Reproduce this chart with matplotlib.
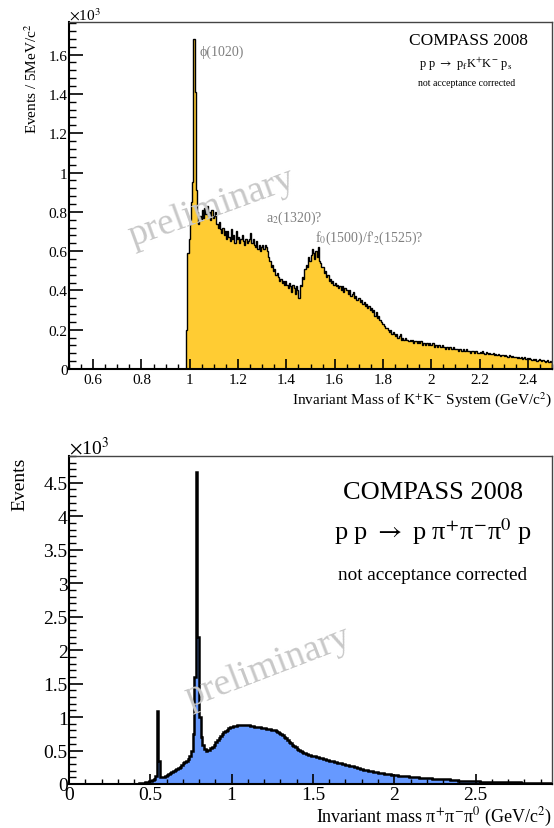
import numpy as np
import matplotlib
matplotlib.use("Agg")
import matplotlib.pyplot as plt
from matplotlib.ticker import MultipleLocator, FuncFormatter

plt.rcParams['font.family'] = ['Liberation Serif', 'DejaVu Serif']
plt.rcParams['mathtext.fontset'] = 'stix'

# K+K- invariant mass, 5 MeV bins from 0.985 GeV, entries in units of 10^3
kk_start = 0.985
kk_width = 0.005
kk_counts = [
    0.20, 0.59, 0.66,
    0.76, 0.85, 0.95, 1.68, 1.41, 0.91, 0.80, 0.74, 0.78, 0.76,
    0.81, 0.77, 0.82, 0.79, 0.83, 0.78, 0.80, 0.76, 0.81, 0.77,
    0.78, 0.80, 0.74, 0.72, 0.75, 0.71, 0.69, 0.72, 0.68, 0.70,
    0.66, 0.70, 0.67, 0.65, 0.71, 0.66, 0.68, 0.64, 0.70, 0.66,
    0.67, 0.64, 0.66, 0.68, 0.65, 0.63, 0.66, 0.64, 0.65, 0.66,
    0.69, 0.64, 0.66, 0.63, 0.62, 0.65, 0.61, 0.63, 0.60, 0.62,
    0.63, 0.61, 0.63, 0.62, 0.60, 0.57, 0.55, 0.52, 0.53, 0.50,
    0.51, 0.48, 0.49, 0.47, 0.45, 0.46, 0.44, 0.45, 0.43, 0.45,
    0.43, 0.41, 0.44, 0.42, 0.39, 0.43, 0.41, 0.38, 0.42, 0.40,
    0.36, 0.43, 0.42, 0.47, 0.46, 0.51, 0.53, 0.52, 0.57, 0.55,
    0.58, 0.61, 0.59, 0.56, 0.60, 0.57, 0.62, 0.55, 0.54, 0.52,
    0.52, 0.49, 0.50, 0.47, 0.48, 0.45, 0.46, 0.44, 0.45, 0.43,
    0.44, 0.42, 0.43, 0.41, 0.42, 0.40, 0.42, 0.39, 0.41, 0.40,
    0.40, 0.38, 0.40, 0.37, 0.38, 0.39, 0.36, 0.37, 0.35, 0.36,
    0.36, 0.34, 0.35, 0.33, 0.34, 0.32, 0.33, 0.31, 0.32, 0.30,
    0.31, 0.29, 0.30, 0.27, 0.29, 0.26, 0.27, 0.25, 0.24, 0.23,
    0.23, 0.22, 0.21, 0.21, 0.20, 0.19, 0.20, 0.18, 0.19, 0.18,
    0.17, 0.18, 0.16, 0.17, 0.18, 0.15, 0.16, 0.15, 0.16, 0.15,
    0.15, 0.14, 0.15, 0.14, 0.15, 0.13, 0.14, 0.14, 0.13, 0.14,
    0.13, 0.14, 0.12, 0.13, 0.13, 0.12, 0.13, 0.12, 0.13, 0.12,
    0.12, 0.13, 0.11, 0.12, 0.12, 0.11, 0.12, 0.11, 0.11, 0.12,
    0.11, 0.10, 0.11, 0.11, 0.10, 0.11, 0.10, 0.10, 0.11, 0.10,
    0.10, 0.10, 0.09, 0.10, 0.10, 0.09, 0.10, 0.09, 0.09, 0.10,
    0.09, 0.09, 0.08, 0.09, 0.09, 0.08, 0.09, 0.09, 0.08, 0.08,
    0.085, 0.08, 0.09, 0.08, 0.075, 0.085, 0.08, 0.075, 0.08, 0.075,
    0.075, 0.08, 0.07, 0.075, 0.07, 0.075, 0.07, 0.065, 0.07, 0.07,
    0.065, 0.07, 0.065, 0.06, 0.07, 0.065, 0.06, 0.065, 0.06, 0.06,
    0.06, 0.055, 0.06, 0.055, 0.06, 0.05, 0.055, 0.06, 0.05, 0.055,
    0.05, 0.055, 0.05, 0.045, 0.05, 0.045, 0.05, 0.04, 0.045, 0.05,
    0.045, 0.04, 0.045, 0.04, 0.035, 0.04, 0.045, 0.035, 0.04, 0.035,
]

# pi+pi-pi0 invariant mass, 10 MeV bins from 0.40 GeV, entries in units of 10^3
pi_start = 0.40
pi_width = 0.010
pi_counts = [
    0.000, 0.000, 0.004, 0.008, 0.012, 0.016, 0.021, 0.026, 0.032, 0.040,
    0.048, 0.058, 0.072, 0.120, 1.090, 0.350, 0.110, 0.100, 0.110, 0.120,
    0.130, 0.145, 0.160, 0.175, 0.190, 0.205, 0.220, 0.240, 0.260, 0.285,
    0.310, 0.330, 0.350, 0.380, 0.420, 0.500, 0.750, 1.600, 4.660, 2.200,
    1.000, 0.700, 0.580, 0.530, 0.500, 0.505, 0.515, 0.535, 0.560, 0.590,
    0.620, 0.650, 0.680, 0.710, 0.740, 0.770, 0.790, 0.810, 0.830, 0.845,
    0.855, 0.865, 0.870, 0.875, 0.880, 0.885, 0.880, 0.885, 0.880, 0.875,
    0.875, 0.870, 0.865, 0.860, 0.855, 0.850, 0.850, 0.845, 0.840, 0.835,
    0.830, 0.825, 0.820, 0.815, 0.810, 0.805, 0.800, 0.790, 0.780, 0.765,
    0.750, 0.730, 0.705, 0.680, 0.655, 0.630, 0.610, 0.590, 0.570, 0.550,
    0.530, 0.510, 0.495, 0.480, 0.470, 0.460, 0.450, 0.440, 0.430, 0.425,
    0.420, 0.412, 0.405, 0.398, 0.390, 0.383, 0.376, 0.370, 0.364, 0.357,
    0.350, 0.344, 0.338, 0.332, 0.326, 0.320, 0.314, 0.308, 0.302, 0.296,
    0.290, 0.283, 0.276, 0.269, 0.262, 0.255, 0.248, 0.241, 0.234, 0.227,
    0.220, 0.215, 0.210, 0.205, 0.200, 0.195, 0.190, 0.185, 0.180, 0.175,
    0.170, 0.166, 0.162, 0.158, 0.154, 0.150, 0.146, 0.142, 0.138, 0.134,
    0.130, 0.128, 0.126, 0.124, 0.122, 0.120, 0.117, 0.115, 0.113, 0.111,
    0.110, 0.107, 0.104, 0.101, 0.098, 0.096, 0.094, 0.092, 0.090, 0.088,
    0.086, 0.085, 0.084, 0.082, 0.081, 0.080, 0.079, 0.078, 0.077, 0.076,
    0.075, 0.073, 0.070, 0.068, 0.065, 0.062, 0.060, 0.057, 0.055, 0.052,
    0.050, 0.049, 0.048, 0.047, 0.046, 0.045, 0.044, 0.043, 0.042, 0.041,
    0.040, 0.039, 0.038, 0.037, 0.036, 0.035, 0.034, 0.033, 0.032, 0.031,
    0.030, 0.030, 0.029, 0.029, 0.028, 0.028, 0.027, 0.027, 0.026, 0.026,
    0.025, 0.025, 0.024, 0.024, 0.024, 0.023, 0.023, 0.023, 0.022, 0.022,
    0.022, 0.022, 0.021, 0.021, 0.021, 0.021, 0.020, 0.020, 0.020, 0.020,
    0.020, 0.020, 0.019, 0.019, 0.019, 0.019, 0.019,
]

W, H = 554, 829
fig = plt.figure(figsize=(W/100, H/100), dpi=100)
ax1 = fig.add_axes([69/W, 1-370/H, 483/W, 347/H])
ax2 = fig.add_axes([69/W, 1-785/H, 483/W, 328/H])

def root_style(ax, xmaj, xmin, ymaj, ymin, size, ylen, xpad):
    ax.xaxis.set_major_locator(MultipleLocator(xmaj))
    ax.xaxis.set_minor_locator(MultipleLocator(xmin))
    ax.yaxis.set_major_locator(MultipleLocator(ymaj))
    ax.yaxis.set_minor_locator(MultipleLocator(ymin))
    fmt = FuncFormatter(lambda v, p: '%g' % round(v, 3))
    ax.xaxis.set_major_formatter(fmt)
    ax.yaxis.set_major_formatter(fmt)
    ax.tick_params(axis='both', which='both', direction='in', top=False, right=False, labelsize=size)
    ax.tick_params(axis='x', which='major', length=7, width=1.2, pad=xpad)
    ax.tick_params(axis='x', which='minor', length=3.5, width=1.0)
    ax.tick_params(axis='y', which='major', length=ylen, width=1.2, pad=1)
    ax.tick_params(axis='y', which='minor', length=ylen/2, width=1.0)
    for s in ['left', 'bottom']:
        ax.spines[s].set_linewidth(1.5)
    for s in ['top', 'right']:
        ax.spines[s].set_linewidth(1.0)
        ax.spines[s].set_color('#444444')

# ---- top panel: K+K-
kk_edges = kk_start + kk_width*np.arange(len(kk_counts)+1)
ax1.stairs(kk_counts, kk_edges, baseline=0, fill=True, color='#ffcc33', lw=0)
ax1.stairs(kk_counts, kk_edges, baseline=0, color='black', lw=1.0)
ax1.set_xlim(0.5, 2.5)
ax1.set_ylim(0, 1.766)
root_style(ax1, 0.2, 0.05, 0.2, 0.04, 11, 10, 3)

gray = '#7f7f7f'
ax1.text(1.042, 1.598, 'ϕ(1020)', color=gray, fontsize=10)
ax1.text(1.315, 0.753, r'a$_2$(1320)?', color=gray, fontsize=10)
ax1.text(1.518, 0.651, r"f$_0$(1500)/f'$_2$(1525)?", color=gray, fontsize=10)
ax1.text(0.296, 0.467, 'preliminary', transform=ax1.transAxes, rotation=20,
         ha='center', va='center', fontsize=27, color='#c8c8c8')

ax1.text(0.828, 0.937, 'COMPASS 2008', transform=ax1.transAxes, ha='center', fontsize=12.5)
ax1.text(0.822, 0.870, r'p p $\rightarrow$ p$_{\rm f}$K$^{+}$K$^{-}$ p$_{\rm s}$',
         transform=ax1.transAxes, ha='center', fontsize=9)
ax1.text(0.824, 0.818, 'not acceptance corrected', transform=ax1.transAxes, ha='center', fontsize=7)

fig.text(69/W, 1-21/H, r'$\times$10$^{3}$', fontsize=11, ha='left', va='baseline')
fig.text(32/W, 1-23/H, r'Events / 5MeV/c$^{2}$', rotation=90, ha='center', va='top', fontsize=11)
fig.text(552/W, 1-404/H, r'Invariant Mass of K$^{+}$K$^{-}$ System (GeV/c$^{2}$)',
         ha='right', va='baseline', fontsize=11)

# ---- bottom panel: pi+pi-pi0
pi_edges = pi_start + pi_width*np.arange(len(pi_counts)+1)
ax2.stairs(pi_counts, pi_edges, baseline=0, fill=True, color='#6699ff', lw=0)
ax2.stairs(pi_counts, pi_edges, baseline=0, color='black', lw=1.8)
ax2.set_xlim(0, 2.97)
ax2.set_ylim(0, 4.9)
root_style(ax2, 0.5, 0.1, 0.5, 0.1, 14, 10, 1.5)

ax2.text(0.412, 0.357, 'preliminary', transform=ax2.transAxes, rotation=21,
         ha='center', va='center', fontsize=27, color='#c8c8c8')
ax2.text(0.754, 0.872, 'COMPASS 2008', transform=ax2.transAxes, ha='center', fontsize=19)
ax2.text(0.754, 0.747, r'p p $\rightarrow$ p π$^{+}$π$^{-}$π$^{0}$ p',
         transform=ax2.transAxes, ha='center', fontsize=19)
ax2.text(0.752, 0.625, 'not acceptance corrected', transform=ax2.transAxes, ha='center', fontsize=13.8)

fig.text(69/W, 1-455/H, r'$\times$10$^{3}$', fontsize=14, ha='left', va='baseline')
fig.text(20/W, 1-458/H, 'Events', rotation=90, ha='center', va='top', fontsize=14)
fig.text(552/W, 1-822/H, r'Invariant mass π$^{+}$π$^{-}$π$^{0}$ (GeV/c$^{2}$)',
         ha='right', va='baseline', fontsize=13)

fig.savefig('out.png', dpi=100)
